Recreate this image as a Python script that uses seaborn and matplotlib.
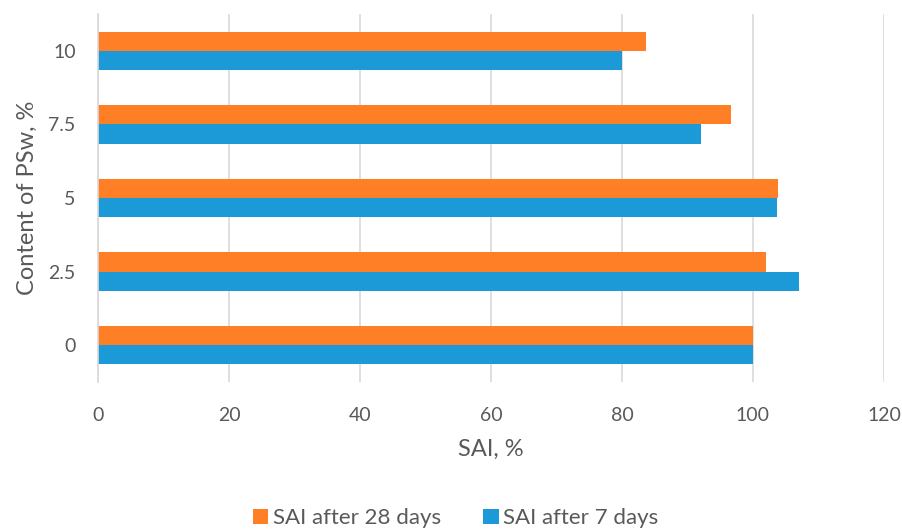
import pandas as pd
import matplotlib.pyplot as plt
import seaborn as sns

# data
contents = ['10', '7.5', '5', '2.5', '0']
sai_28 = [83.6, 96.6, 103.8, 102.0, 100.0]
sai_7 = [80.0, 92.0, 103.6, 107.0, 100.0]
series = ['SAI after 28 days', 'SAI after 7 days']
colors = ['#FF7F27', '#1B9AD7']

sns.set_theme(style='white')
plt.rcParams['font.family'] = ['Lato', 'DejaVu Sans']

df = pd.DataFrame({
    'Content': contents * 2,
    'SAI': sai_28 + sai_7,
    'Series': [series[0]] * len(contents) + [series[1]] * len(contents),
})

fig = plt.figure(figsize=(9.02, 5.31), dpi=100)
ax = fig.add_axes([0.1086, 0.2806, 0.8714, 0.693])

sns.barplot(data=df, x='SAI', y='Content', hue='Series', order=contents,
            hue_order=series, palette=colors, orient='h', width=0.52,
            saturation=1, edgecolor='none', ax=ax)

grey = '#595959'
ax.set_xlim(0, 120)
ax.set_xticks(range(0, 121, 20))
ax.grid(axis='x', color='#D9D9D9', linewidth=1.2)
ax.grid(axis='y', visible=False)
ax.set_axisbelow(True)
for s in ['top', 'right', 'bottom']:
    ax.spines[s].set_visible(False)
ax.spines['left'].set_color('#D9D9D9')
ax.spines['left'].set_linewidth(1.2)
ax.tick_params(axis='both', length=0, labelsize=14, labelcolor=grey)
ax.tick_params(axis='x', pad=18)
ax.tick_params(axis='y', pad=16)

ax.set_xlabel('SAI, %', fontsize=17, color=grey, labelpad=11)
ax.set_ylabel('Content of PSw, %', fontsize=17, color=grey, labelpad=8)

ax.legend(loc='center', bbox_to_anchor=(0.455, -0.37), ncol=2,
          frameon=False, fontsize=16, labelcolor=grey, handlelength=0.7,
          handleheight=0.7, handletextpad=0.2, columnspacing=1.9,
          borderaxespad=0, borderpad=0)

fig.savefig('out.png', dpi=100)
